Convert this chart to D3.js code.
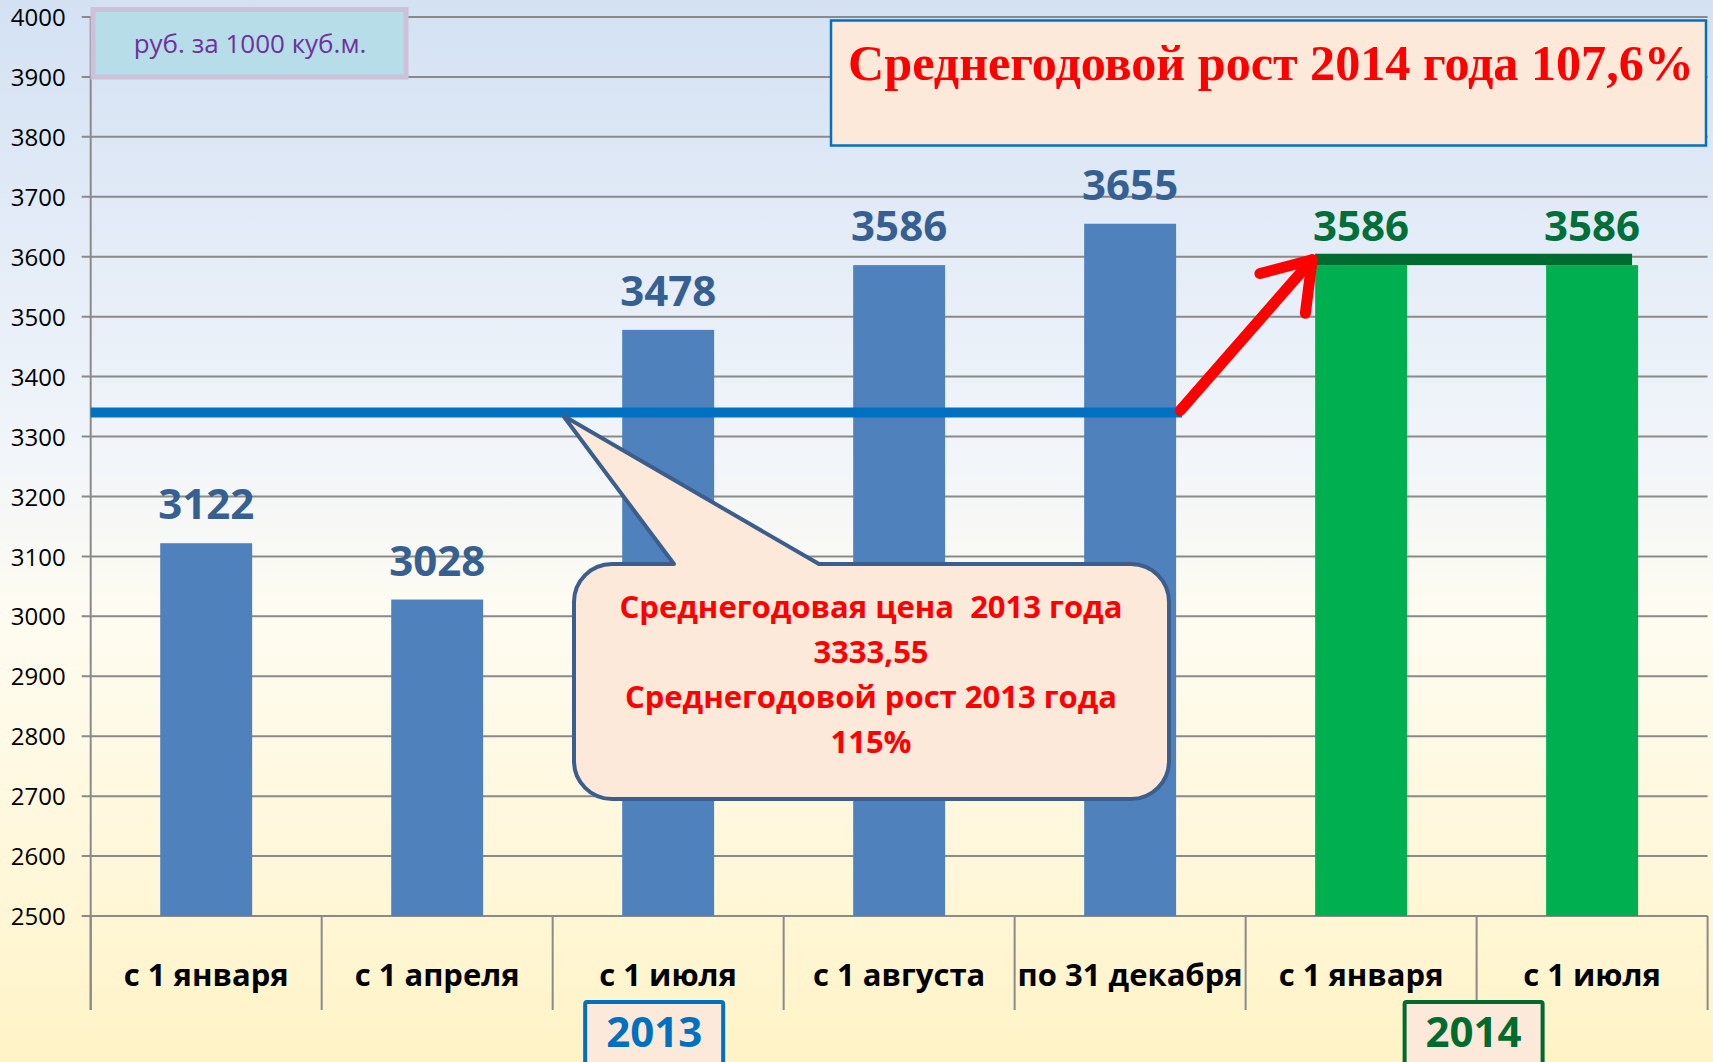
<!DOCTYPE html>
<html>
<head>
<meta charset="utf-8">
<script src="https://cdn.jsdelivr.net/npm/d3@7"></script>
<style>
  html, body { margin: 0; padding: 0; overflow: hidden; }
  svg { display: block; }
</style>
</head>
<body>
<svg id="chart" width="1713" height="1062"></svg>
<script>
// ---------- data ----------
const categories = ["с 1 января", "с 1 апреля", "с 1 июля", "с 1 августа", "по 31 декабря", "с 1 января", "с 1 июля"];
const values = [3122, 3028, 3478, 3586, 3655, 3586, 3586];
const yearOf = [2013, 2013, 2013, 2013, 2013, 2014, 2014];
const yTicks = [2500, 2600, 2700, 2800, 2900, 3000, 3100, 3200, 3300, 3400, 3500, 3600, 3700, 3800, 3900, 4000];
const yDomain = [2500, 4000];
const avgLine2013 = 3340;          // level of the blue average line as drawn
const plateau2014 = [3586, 3605];  // dark green cap over the 2014 bars
const unitLabel = "руб. за 1000 куб.м.";
const headline = "Среднегодовой рост 2014 года 107,6%";
const calloutLines = ["Среднегодовая цена  2013 года", "3333,55", "Среднегодовой рост 2013 года", "115%"];
const yearLabels = ["2013", "2014"];

// ---------- setup ----------
const W = 1713, H = 1062;
const svg = d3.select("#chart");
const FONT = "'Open Sans', 'Liberation Sans', sans-serif";

const defs = svg.append("defs");
const bg = defs.append("linearGradient").attr("id", "bg").attr("x1", 0).attr("y1", 0).attr("x2", 0).attr("y2", 1);
[["0%", "#D3E1F3"], ["42%", "#F1F5FA"], ["58%", "#FEFCF1"], ["100%", "#FFF3C6"]].forEach(([o, c]) =>
  bg.append("stop").attr("offset", o).attr("stop-color", c));
svg.append("rect").attr("width", W).attr("height", H).attr("fill", "url(#bg)");

const plotLeft = 90.7, plotRight = 1707.6, plotTop = 17, plotBottom = 916, dividerBottom = 1010;

const x = d3.scaleBand().domain(d3.range(categories.length)).range([plotLeft, plotRight])
  .paddingInner(0.602).paddingOuter(0.301);
const step = x.step();
const y = d3.scaleLinear().domain(yDomain).range([plotBottom, plotTop]);

// ---------- gridlines ----------
const gridG = svg.append("g");
gridG.selectAll("line").data(yTicks).join("line")
  .attr("x1", plotLeft - 9).attr("x2", plotRight)
  .attr("y1", d => y(d)).attr("y2", d => y(d))
  .attr("stroke", "#8A8A8A").attr("stroke-width", 2);

// y axis labels
const yAxis = d3.axisLeft(y).tickValues(yTicks).tickSize(0).tickPadding(0).tickFormat(d3.format("d"));
const yAxisG = svg.append("g").attr("transform", `translate(${plotLeft - 25},0)`).call(yAxis);
yAxisG.select(".domain").remove();
yAxisG.selectAll("text").attr("font-family", FONT).attr("font-size", 24).attr("fill", "#000").attr("dy", "0.36em");

// left axis line and category dividers
svg.append("line").attr("x1", plotLeft).attr("x2", plotLeft).attr("y1", plotTop).attr("y2", dividerBottom)
  .attr("stroke", "#8A8A8A").attr("stroke-width", 2);
svg.append("g").selectAll("line").data(d3.range(categories.length + 1)).join("line")
  .attr("x1", i => plotLeft + i * step).attr("x2", i => plotLeft + i * step)
  .attr("y1", plotBottom).attr("y2", dividerBottom)
  .attr("stroke", "#8A8A8A").attr("stroke-width", 2);

// ---------- bars ----------
const barColor = yr => yr === 2013 ? "#4F81BD" : "#00B050";
svg.append("g").selectAll("rect").data(values).join("rect")
  .attr("x", (d, i) => x(i)).attr("width", x.bandwidth())
  .attr("y", d => y(d)).attr("height", d => plotBottom - y(d))
  .attr("fill", (d, i) => barColor(yearOf[i]));

// dark green cap over 2014 bars
const idx2014 = d3.range(categories.length).filter(i => yearOf[i] === 2014);
svg.append("rect")
  .attr("x", x(idx2014[0]))
  .attr("width", x(idx2014[idx2014.length - 1]) + x.bandwidth() - 6 - x(idx2014[0]))
  .attr("y", y(plateau2014[1])).attr("height", y(plateau2014[0]) - y(plateau2014[1]))
  .attr("fill", "#006B2F");

// value labels
svg.append("g").selectAll("text").data(values).join("text")
  .attr("x", (d, i) => x(i) + x.bandwidth() / 2)
  .attr("y", d => y(d) - 24)
  .attr("text-anchor", "middle")
  .attr("font-family", FONT).attr("font-weight", 700).attr("font-size", 42)
  .attr("fill", (d, i) => yearOf[i] === 2013 ? "#376092" : "#006F38")
  .text(d => d);

// category labels
svg.append("g").selectAll("text").data(categories).join("text")
  .attr("x", (d, i) => x(i) + x.bandwidth() / 2)
  .attr("y", 986)
  .attr("text-anchor", "middle")
  .attr("font-family", FONT).attr("font-weight", 700).attr("font-size", 31)
  .attr("fill", "#000")
  .text(d => d);

// ---------- 2013 average line ----------
const lineEndX = x(4) + x.bandwidth() + 6;
svg.append("line")
  .attr("x1", plotLeft).attr("x2", lineEndX)
  .attr("y1", y(avgLine2013)).attr("y2", y(avgLine2013))
  .attr("stroke", "#0070C0").attr("stroke-width", 10);

// red arrow
const tail = [lineEndX - 2, y(avgLine2013) - 2];
const tip = [x(idx2014[0]) - 3, y(plateau2014[1]) + 6];
const ang = Math.atan2(tip[1] - tail[1], tip[0] - tail[0]);
const barbLen = 54, barbAng = 34 * Math.PI / 180;
const barb = s => [tip[0] - barbLen * Math.cos(ang + s * barbAng), tip[1] - barbLen * Math.sin(ang + s * barbAng)];
const arrowG = svg.append("g").attr("stroke", "#FF0000").attr("stroke-width", 11)
  .attr("fill", "none").attr("stroke-linecap", "round").attr("stroke-linejoin", "round");
arrowG.append("path").attr("d", d3.line()([tail, tip]));
arrowG.append("path").attr("d", d3.line()([barb(1), tip, barb(-1)]));

// ---------- callout ----------
const cb = { x0: 574, x1: 1169, y0: 564, y1: 799, r: 38 };
const tailTip = [563, y(avgLine2013) + 3];
const tailA = 674, tailB = 819;
const cp = d3.path();
cp.moveTo(cb.x0 + cb.r, cb.y0);
cp.lineTo(tailA, cb.y0);
cp.lineTo(tailTip[0], tailTip[1]);
cp.lineTo(tailB, cb.y0);
cp.lineTo(cb.x1 - cb.r, cb.y0);
cp.arcTo(cb.x1, cb.y0, cb.x1, cb.y0 + cb.r, cb.r);
cp.lineTo(cb.x1, cb.y1 - cb.r);
cp.arcTo(cb.x1, cb.y1, cb.x1 - cb.r, cb.y1, cb.r);
cp.lineTo(cb.x0 + cb.r, cb.y1);
cp.arcTo(cb.x0, cb.y1, cb.x0, cb.y1 - cb.r, cb.r);
cp.lineTo(cb.x0, cb.y0 + cb.r);
cp.arcTo(cb.x0, cb.y0, cb.x0 + cb.r, cb.y0, cb.r);
cp.closePath();
svg.append("path").attr("d", cp.toString())
  .attr("fill", "#FDE9D9").attr("stroke", "#3B5E8C").attr("stroke-width", 4).attr("stroke-linejoin", "round");
svg.append("g").selectAll("text").data(calloutLines).join("text")
  .attr("x", 871).attr("y", (d, i) => 618 + i * 45)
  .attr("text-anchor", "middle")
  .attr("font-family", FONT).attr("font-weight", 700).attr("font-size", 31)
  .attr("fill", "#FF0000").attr("xml:space", "preserve")
  .style("white-space", "pre")
  .text(d => d);

// ---------- unit box ----------
svg.append("rect").attr("x", 93).attr("y", 9.5).attr("width", 313).attr("height", 67.5)
  .attr("fill", "#B7DEE8").attr("stroke", "#CCC0DA").attr("stroke-width", 5);
svg.append("text").attr("x", 250).attr("y", 53)
  .attr("text-anchor", "middle").attr("font-family", FONT).attr("font-size", 26)
  .attr("fill", "#7030A0").text(unitLabel);

// ---------- headline box ----------
svg.append("rect").attr("x", 831).attr("y", 20.5).attr("width", 875).attr("height", 125)
  .attr("fill", "#FDE9D9").attr("stroke", "#0070C0").attr("stroke-width", 2.5);
const headText = svg.append("text").attr("x", 1271).attr("y", 80)
  .attr("text-anchor", "middle")
  .attr("font-family", "'Liberation Serif', 'Times New Roman', serif").attr("font-weight", 700).attr("font-size", 54)
  .attr("fill", "#FF0000").text(headline);
const natural = headText.node().getComputedTextLength();
if (natural > 846) headText.attr("font-size", 54 * 846 / natural);

// ---------- year boxes ----------
const yearBoxes = [
  { label: yearLabels[0], cx: x(2) + x.bandwidth() / 2 - 14, stroke: "#0070C0", color: "#0070C0" },
  { label: yearLabels[1], cx: plotLeft + 6 * step - 3, stroke: "#006B2F", color: "#006B2F" }
];
const yb = svg.append("g").selectAll("g").data(yearBoxes).join("g");
yb.append("rect").attr("x", d => d.cx - 69).attr("y", 1002).attr("width", 138).attr("height", 80)
  .attr("rx", 2).attr("fill", "#FDE9D9").attr("stroke", d => d.stroke).attr("stroke-width", 4);
yb.append("text").attr("x", d => d.cx).attr("y", 1047)
  .attr("text-anchor", "middle").attr("font-family", FONT).attr("font-weight", 700).attr("font-size", 42)
  .attr("fill", d => d.color).text(d => d.label);
</script>
</body>
</html>
